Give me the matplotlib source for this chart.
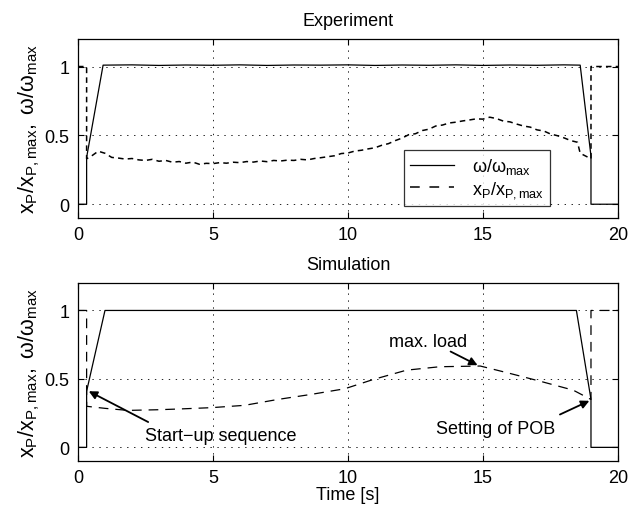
import matplotlib
matplotlib.use("Agg")
import matplotlib.pyplot as plt

plt.rcParams['font.family'] = ['Liberation Sans', 'DejaVu Sans']
plt.rcParams['mathtext.fontset'] = 'custom'
plt.rcParams['mathtext.rm'] = 'Liberation Sans'
plt.rcParams['mathtext.it'] = 'Liberation Sans:italic'
plt.rcParams['lines.scale_dashes'] = False

# experiment: rotational speed omega/omega_max
exp_w_t = [0, 0.32, 0.32, 0.93, 2, 3, 4, 5, 6, 7, 8, 9, 10, 11, 12, 13, 14, 15, 16, 17, 18, 18.6, 19.0, 19.0, 20]
exp_w_v = [0, 0, 0.34, 1.01, 1.012, 1.008, 1.011, 1.009, 1.012, 1.008, 1.011, 1.01, 1.012, 1.008, 1.011,
           1.009, 1.012, 1.008, 1.011, 1.009, 1.012, 1.01, 0.35, 0, 0]

# experiment: valve position x_P/x_P,max
exp_x_t = [0, 0.32, 0.32,
           0.50, 0.75, 1.00, 1.25, 1.50, 1.75, 2.00, 2.25, 2.50, 2.75, 3.00, 3.25, 3.50, 3.75,
           4.00, 4.25, 4.50, 4.75, 5.00, 5.25, 5.50, 5.75, 6.00, 6.25, 6.50, 6.75, 7.00, 7.25,
           7.50, 7.75, 8.00, 8.25, 8.50, 8.75, 9.00, 9.25, 9.50, 9.75, 10.00, 10.25, 10.50, 10.75,
           11.00, 11.25, 11.50, 11.75, 12.00, 12.25, 12.50, 12.75, 13.00, 13.25, 13.50, 13.75,
           14.00, 14.25, 14.50, 14.75, 15.00, 15.25, 15.50, 15.75, 16.00, 16.25, 16.50, 16.75,
           17.00, 17.25, 17.50, 17.75, 18.00, 18.25, 18.50,
           18.6, 18.75, 18.9, 19.0, 19.0, 20]
exp_x_v = [1.0, 1.0, 0.33,
           0.35, 0.385, 0.37, 0.34, 0.335, 0.328, 0.332, 0.322, 0.318, 0.326, 0.312, 0.318, 0.305, 0.31,
           0.298, 0.306, 0.29, 0.297, 0.295, 0.302, 0.298, 0.305, 0.302, 0.31, 0.306, 0.314, 0.309, 0.318,
           0.314, 0.32, 0.318, 0.326, 0.322, 0.332, 0.338, 0.345, 0.352, 0.368, 0.372, 0.386, 0.392, 0.402,
           0.41, 0.428, 0.44, 0.462, 0.48, 0.505, 0.512, 0.535, 0.545, 0.568, 0.575, 0.59,
           0.596, 0.605, 0.612, 0.62, 0.618, 0.632, 0.622, 0.604, 0.598, 0.582, 0.568, 0.56,
           0.54, 0.532, 0.51, 0.498, 0.482, 0.462, 0.45,
           0.37, 0.355, 0.34, 0.33, 1.0, 1.0]

# simulation
sim_w_t = [0, 0.32, 0.32, 1.0, 18.46, 19.0, 19.0, 20]
sim_w_v = [0, 0, 0.41, 1.0, 1.0, 0.35, 0, 0]

sim_x_t = [0, 0.32, 0.32, 1.0, 1.85, 3.0, 3.7, 4.94, 6.17, 7.4, 8.64, 9.88, 10.94, 12.17, 13.4,
           14.9, 15.9, 17.1, 18.34, 19.0, 19.0, 20]
sim_x_v = [1.0, 1.0, 0.30, 0.285, 0.27, 0.275, 0.28, 0.29, 0.307, 0.35, 0.387, 0.428, 0.496, 0.564, 0.589,
           0.594, 0.545, 0.484, 0.418, 0.35, 1.0, 1.0]

xticks = [0, 5, 10, 15, 20]
yticks = [0, 0.5, 1]
ylab = r'$\mathrm{x_P/x_{P,max}},\ \mathrm{ω/ω_{max}}$'

fig = plt.figure(figsize=(6.35, 5.1), dpi=100)
ax1 = fig.add_axes([0.1228, 0.5706, 0.8504, 0.351])
ax2 = fig.add_axes([0.1228, 0.094, 0.8504, 0.349])

for ax, title in [(ax1, 'Experiment'), (ax2, 'Simulation')]:
    ax.set_xlim(0, 20)
    ax.set_ylim(-0.1, 1.2)
    ax.set_xticks(xticks)
    ax.set_yticks(yticks)
    ax.set_yticklabels(['0', '0.5', '1'])
    ax.tick_params(direction='in', top=True, right=True, labelsize=13, length=4, width=0.8, pad=6)
    ax.grid(True, color='black', linestyle=(0, (1, 4)), linewidth=0.6)
    ax.set_title(title, fontsize=13, pad=10)
    ax.set_ylabel(ylab, fontsize=15.5, labelpad=2)
    for s in ax.spines.values():
        s.set_linewidth(0.9)

ax1.plot(exp_w_t, exp_w_v, color='black', lw=0.9, label=r'$\mathrm{ω/ω_{max}}$')
ax1.plot(exp_x_t, exp_x_v, color='black', lw=1.1, dashes=(4, 3), label=r'$\mathrm{x_P/x_{P,max}}$')
leg = ax1.legend(loc='upper left', bbox_to_anchor=(0.604, 0.38), fontsize=13, frameon=True,
                 fancybox=False, edgecolor='black', handlelength=2.4, handletextpad=1.0,
                 borderpad=0.35, labelspacing=0.15, borderaxespad=0)
leg.get_frame().set_linewidth(0.9)
leg.legend_handles[1].set_dashes((7, 7))

ax2.plot(sim_w_t, sim_w_v, color='black', lw=0.9)
ax2.plot(sim_x_t, sim_x_v, color='black', lw=0.9, dashes=(7, 5))
ax2.set_xlabel('Time [s]', fontsize=13, labelpad=0)

arrow = dict(arrowstyle='-|>', color='black', lw=1.3, mutation_scale=12, shrinkA=0, shrinkB=0)
ax2.annotate('', xy=(14.8, 0.60), xytext=(13.8, 0.70), arrowprops=arrow)
ax2.text(12.96, 0.77, 'max. load', fontsize=13, ha='center', va='center')
ax2.annotate('', xy=(0.40, 0.41), xytext=(2.6, 0.185), arrowprops=arrow)
ax2.text(5.3, 0.09, 'Start\u2212up sequence', fontsize=13, ha='center', va='center')
ax2.annotate('', xy=(18.94, 0.34), xytext=(17.85, 0.24), arrowprops=arrow)
ax2.text(15.45, 0.14, 'Setting of POB', fontsize=13, ha='center', va='center')

fig.savefig('out.png', dpi=100)
